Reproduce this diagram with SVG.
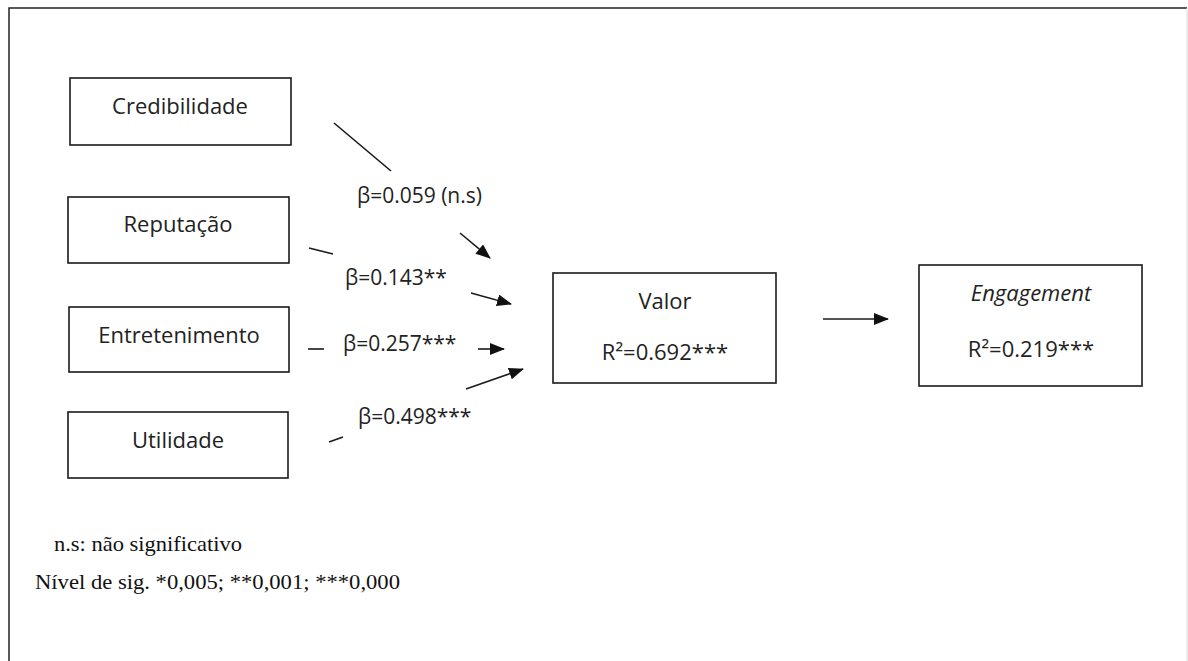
<svg xmlns="http://www.w3.org/2000/svg" width="1188" height="661" viewBox="0 0 1188 661">
<style>
.box{fill:#fff;stroke:#1a1a1a;stroke-width:1.6}
.lbl{font-family:"Open Sans","Noto Sans",sans-serif;font-size:22px;fill:#222}
.beta{font-family:"Open Sans","Noto Sans",sans-serif;font-size:21px;fill:#222}
.c{text-anchor:middle}
.ln{stroke:#1a1a1a;stroke-width:1.6;fill:none}
.note{font-family:"Liberation Serif","Times New Roman",serif;font-size:21.5px;fill:#111}
</style>
<defs>
<marker id="ah" viewBox="0 0 15 12" refX="14" refY="6" markerWidth="15" markerHeight="12" markerUnits="userSpaceOnUse" orient="auto">
<path d="M0,0 L15,6 L0,12 Z" fill="#111"/>
</marker>
</defs>
<rect x="0" y="0" width="1188" height="661" fill="#fff"/>
<path d="M9,661 V8 H1187" fill="none" stroke="#222" stroke-width="1.5"/>
<line x1="1187" y1="8" x2="1187" y2="661" stroke="#ddd" stroke-width="1"/>
<g id="credibilidade"><rect class="box" x="70" y="78" width="221" height="67"/><text class="lbl c" x="180" y="114">Credibilidade</text></g>
<g id="reputacao"><rect class="box" x="68" y="197" width="221" height="66"/><text class="lbl c" x="178" y="232">Reputação</text></g>
<g id="entretenimento"><rect class="box" x="69" y="307" width="220" height="65"/><text class="lbl c" x="179" y="343">Entretenimento</text></g>
<g id="utilidade"><rect class="box" x="68" y="412" width="220" height="66"/><text class="lbl c" x="178" y="448">Utilidade</text></g>
<g id="valor"><rect class="box" x="553" y="273" width="223" height="110"/><text class="lbl c" x="665" y="309">Valor</text><text class="lbl c" x="665" y="360">R²=0.692***</text></g>
<g id="engagement"><rect class="box" x="919" y="265" width="223" height="121"/><text class="lbl c" x="1031" y="301" font-style="italic">Engagement</text><text class="lbl c" x="1031" y="357">R²=0.219***</text></g>
<g id="connectors">
<line class="ln" x1="334" y1="123" x2="391" y2="171"/>
<line class="ln" x1="460" y1="233" x2="490" y2="258" marker-end="url(#ah)"/>
<line class="ln" x1="309" y1="248" x2="333" y2="254"/>
<line class="ln" x1="471" y1="293" x2="511" y2="304" marker-end="url(#ah)"/>
<line class="ln" x1="308" y1="349" x2="324" y2="349"/>
<line class="ln" x1="478" y1="349" x2="504" y2="349" marker-end="url(#ah)"/>
<line class="ln" x1="329" y1="442" x2="343" y2="437"/>
<line class="ln" x1="466" y1="389" x2="523" y2="369" marker-end="url(#ah)"/>
<line class="ln" x1="823" y1="319" x2="888" y2="319" marker-end="url(#ah)"/>
<text class="beta" x="357" y="203">β=0.059 (n.s)</text>
<text class="beta" x="345" y="285">β=0.143**</text>
<text class="beta" x="343" y="351">β=0.257***</text>
<text class="beta" x="358" y="424">β=0.498***</text>
</g>
<text class="note" x="54" y="551" textLength="188" lengthAdjust="spacingAndGlyphs">n.s: não significativo</text>
<text class="note" x="35" y="589" textLength="365" lengthAdjust="spacingAndGlyphs">Nível de sig. *0,005; **0,001; ***0,000</text>
</svg>
